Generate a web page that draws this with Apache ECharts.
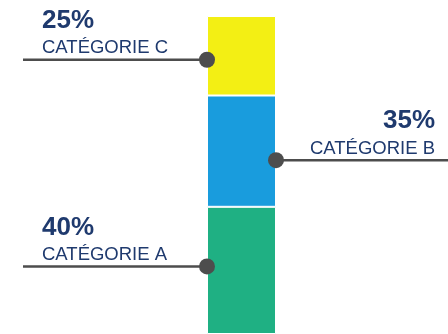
<!DOCTYPE html>
<html>
<head>
<meta charset="utf-8">
<script src="https://cdn.jsdelivr.net/npm/echarts@6/dist/echarts.min.js"></script>
<style>
  html, body { margin: 0; padding: 0; background: #fff; }
  #chart { width: 448px; height: 334px; }
</style>
</head>
<body>
<div id="chart"></div>
<script>
// data, bottom to top
const categories = ['CATÉGORIE A', 'CATÉGORIE B', 'CATÉGORIE C']
const shares = [40, 35, 25]
const colors = ['#1fb083', '#199cdd', '#f3ef14']

// callout layout (which side, and a small px nudge from the segment middle)
const sides = ['left', 'right', 'left']
const nudges = [-4, 9, 4]

const navy = '#1f3a6e'
const lineColor = '#4d4d4d'
const font = '"Liberation Sans", Arial, sans-serif'

const chart = echarts.init(document.getElementById('chart'))

// middle of each stacked segment, in axis units
let acc = 0
const mids = shares.map(v => { const m = acc + v / 2; acc += v; return m })

const barSeries = shares.map((v, i) => ({
  name: categories[i],
  type: 'bar',
  stack: 'total',
  barWidth: '100%',
  data: [v],
  itemStyle: { color: colors[i], borderColor: '#fff', borderWidth: 1 },
  silent: true,
}))

const callouts = {
  type: 'custom',
  z: 10,
  silent: true,
  data: mids.map((m, i) => [0, m, i]),
  encode: { x: 0, y: 1 },
  renderItem(params, api) {
    const i = api.value(2)
    const c = api.coord([0, api.value(1)])
    const half = api.size([1, 0])[0] / 2
    const y = c[1] + nudges[i]
    const W = api.getWidth()
    const left = sides[i] === 'left'
    const dotX = left ? c[0] - half : c[0] + half
    const x1 = left ? 23 : dotX
    const x2 = left ? dotX : W
    const tx = left ? 42 : W - 13
    const align = left ? 'left' : 'right'
    return {
      type: 'group',
      children: [
        { type: 'line', shape: { x1, y1: y, x2, y2: y }, style: { stroke: lineColor, lineWidth: 2.5 } },
        { type: 'circle', shape: { cx: dotX, cy: y, r: 8 }, style: { fill: lineColor } },
        {
          type: 'text',
          style: {
            x: tx, y: y - 2, text: categories[i], align, verticalAlign: 'bottom',
            fill: navy, font: '18.5px ' + font,
          },
        },
        {
          type: 'text',
          style: {
            x: tx, y: y - 26, text: shares[i] + '%', align, verticalAlign: 'bottom',
            fill: navy, font: 'bold 26px ' + font,
          },
        },
      ],
    }
  },
}

chart.setOption({
  animation: false,
  grid: { left: 207, right: 172, top: 16, bottom: 0 },
  xAxis: { type: 'category', data: [''], show: false },
  yAxis: { type: 'value', min: 0, max: 100, show: false },
  series: [...barSeries, callouts],
})
</script>
</body>
</html>
